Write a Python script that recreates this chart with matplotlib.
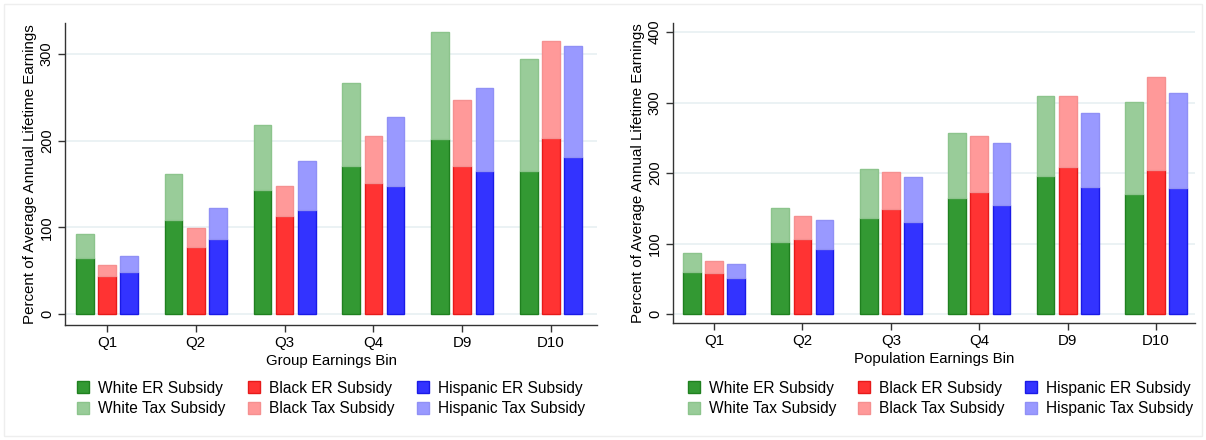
import matplotlib
matplotlib.use("Agg")
import matplotlib.pyplot as plt
import numpy as np
from matplotlib.patches import Rectangle

plt.rcParams['font.family'] = ['Liberation Sans', 'DejaVu Sans']

categories = ["Q1", "Q2", "Q3", "Q4", "D9", "D10"]

# Left panel: Group Earnings Bin (ER subsidy, total = ER + tax)
left_white_er = [64.6, 108.5, 143.0, 170.8, 202.0, 165.0]
left_white_tot = [92.7, 161.5, 218.0, 266.5, 325.4, 294.2]
left_black_er = [44.2, 77.3, 113.0, 151.5, 170.8, 203.0]
left_black_tot = [56.5, 99.2, 147.7, 206.0, 247.3, 315.4]
left_hisp_er = [48.5, 86.5, 120.4, 147.7, 165.0, 181.2]
left_hisp_tot = [66.9, 122.3, 176.5, 227.3, 260.8, 310.0]

# Right panel: Population Earnings Bin
right_white_er = [59.6, 102.0, 136.6, 164.5, 195.7, 170.2]
right_white_tot = [86.5, 150.4, 206.1, 257.2, 309.7, 300.7]
right_black_er = [58.2, 106.4, 149.0, 173.0, 208.5, 204.3]
right_black_tot = [75.2, 139.0, 201.4, 252.5, 309.7, 336.2]
right_hisp_er = [51.0, 93.1, 130.5, 154.6, 180.1, 178.3]
right_hisp_tot = [70.9, 132.9, 194.3, 242.6, 286.0, 314.4]

er_colors = ["#339933", "#ff3333", "#3333ff"]
er_edges = ["#1f801f", "#e61a1a", "#1a1ae6"]
tax_colors = ["#99cc99", "#ff9999", "#9999ff"]
tax_edges = ["#8cc48c", "#f59090", "#9090f5"]
groups = ["White", "Black", "Hispanic"]

W, H = 1206, 440
fig = plt.figure(figsize=(W / 100, H / 100), dpi=100)
fig.patches.append(Rectangle((4 / W, 4 / H), 1 - 8 / W, 1 - 8 / H, transform=fig.transFigure,
                             fill=False, edgecolor="#eeeeee", linewidth=1))


def panel(rect, ers, tots, ylim, yticks, xlim, xlabel, legend_xs):
    ax = fig.add_axes(rect)
    x = np.arange(len(categories))
    offs = [-0.25, 0.0, 0.25]
    bw = 0.2
    col_handles = []
    for i in range(3):
        er = np.array(ers[i])
        tot = np.array(tots[i])
        b1 = ax.bar(x + offs[i], er, bw, color=er_colors[i], edgecolor=er_edges[i], linewidth=1,
                    label=f"{groups[i]} ER Subsidy", zorder=3)
        b2 = ax.bar(x + offs[i], tot - er, bw, bottom=er, color=tax_colors[i], edgecolor=tax_edges[i],
                    linewidth=1, label=f"{groups[i]} Tax Subsidy", zorder=3)
        col_handles.append(([b1, b2], [f"{groups[i]} ER Subsidy", f"{groups[i]} Tax Subsidy"]))
    ax.set_xlim(*xlim)
    ax.set_ylim(*ylim)
    ax.set_xticks(x)
    ax.set_xticklabels(categories, fontsize=10.8)
    ax.set_yticks(yticks)
    ax.set_yticklabels([str(t) for t in yticks], rotation=90, va="center", fontsize=10.5)
    ax.yaxis.grid(True, color="#e8f0f2", linewidth=1.2, zorder=0)
    ax.set_axisbelow(True)
    for s in ["top", "right"]:
        ax.spines[s].set_visible(False)
    for s in ["left", "bottom"]:
        ax.spines[s].set_color("#333333")
        ax.spines[s].set_linewidth(1)
    ax.tick_params(axis="both", direction="out", length=5, width=1, color="#333333", pad=3)
    ax.set_ylabel("Percent of Average Annual Lifetime Earnings", fontsize=10.9, labelpad=2)
    ax.set_xlabel(xlabel, fontsize=10.8, labelpad=3)
    for (hs, ls), lx in zip(col_handles, legend_xs):
        fig.legend(hs, ls, ncol=1, loc="center left",
                   bbox_to_anchor=(lx / W, 1 - 398.5 / H), bbox_transform=fig.transFigure,
                   frameon=False, fontsize=11.2, borderpad=0, borderaxespad=0,
                   handlelength=0.78, handleheight=0.84, handletextpad=0.55,
                   labelspacing=0.38)
    return ax


# left axes pixels: x 65..597, y 23..325
panel([65 / W, (H - 325) / H, (597 - 65) / W, (325 - 23) / H],
      [left_white_er, left_black_er, left_hisp_er],
      [left_white_tot, left_black_tot, left_hisp_tot],
      (-12.7, 336), [0, 100, 200, 300], (-0.473, 5.518), "Group Earnings Bin", [77, 248, 417])

panel([673 / W, (H - 323) / H, (1195 - 673) / W, (323 - 23) / H],
      [right_white_er, right_black_er, right_hisp_er],
      [right_white_tot, right_black_tot, right_hisp_tot],
      (-12.5, 413), [0, 100, 200, 300, 400], (-0.464, 5.44), "Population Earnings Bin", [688, 858, 1025])

fig.savefig("out.png", dpi=100)
